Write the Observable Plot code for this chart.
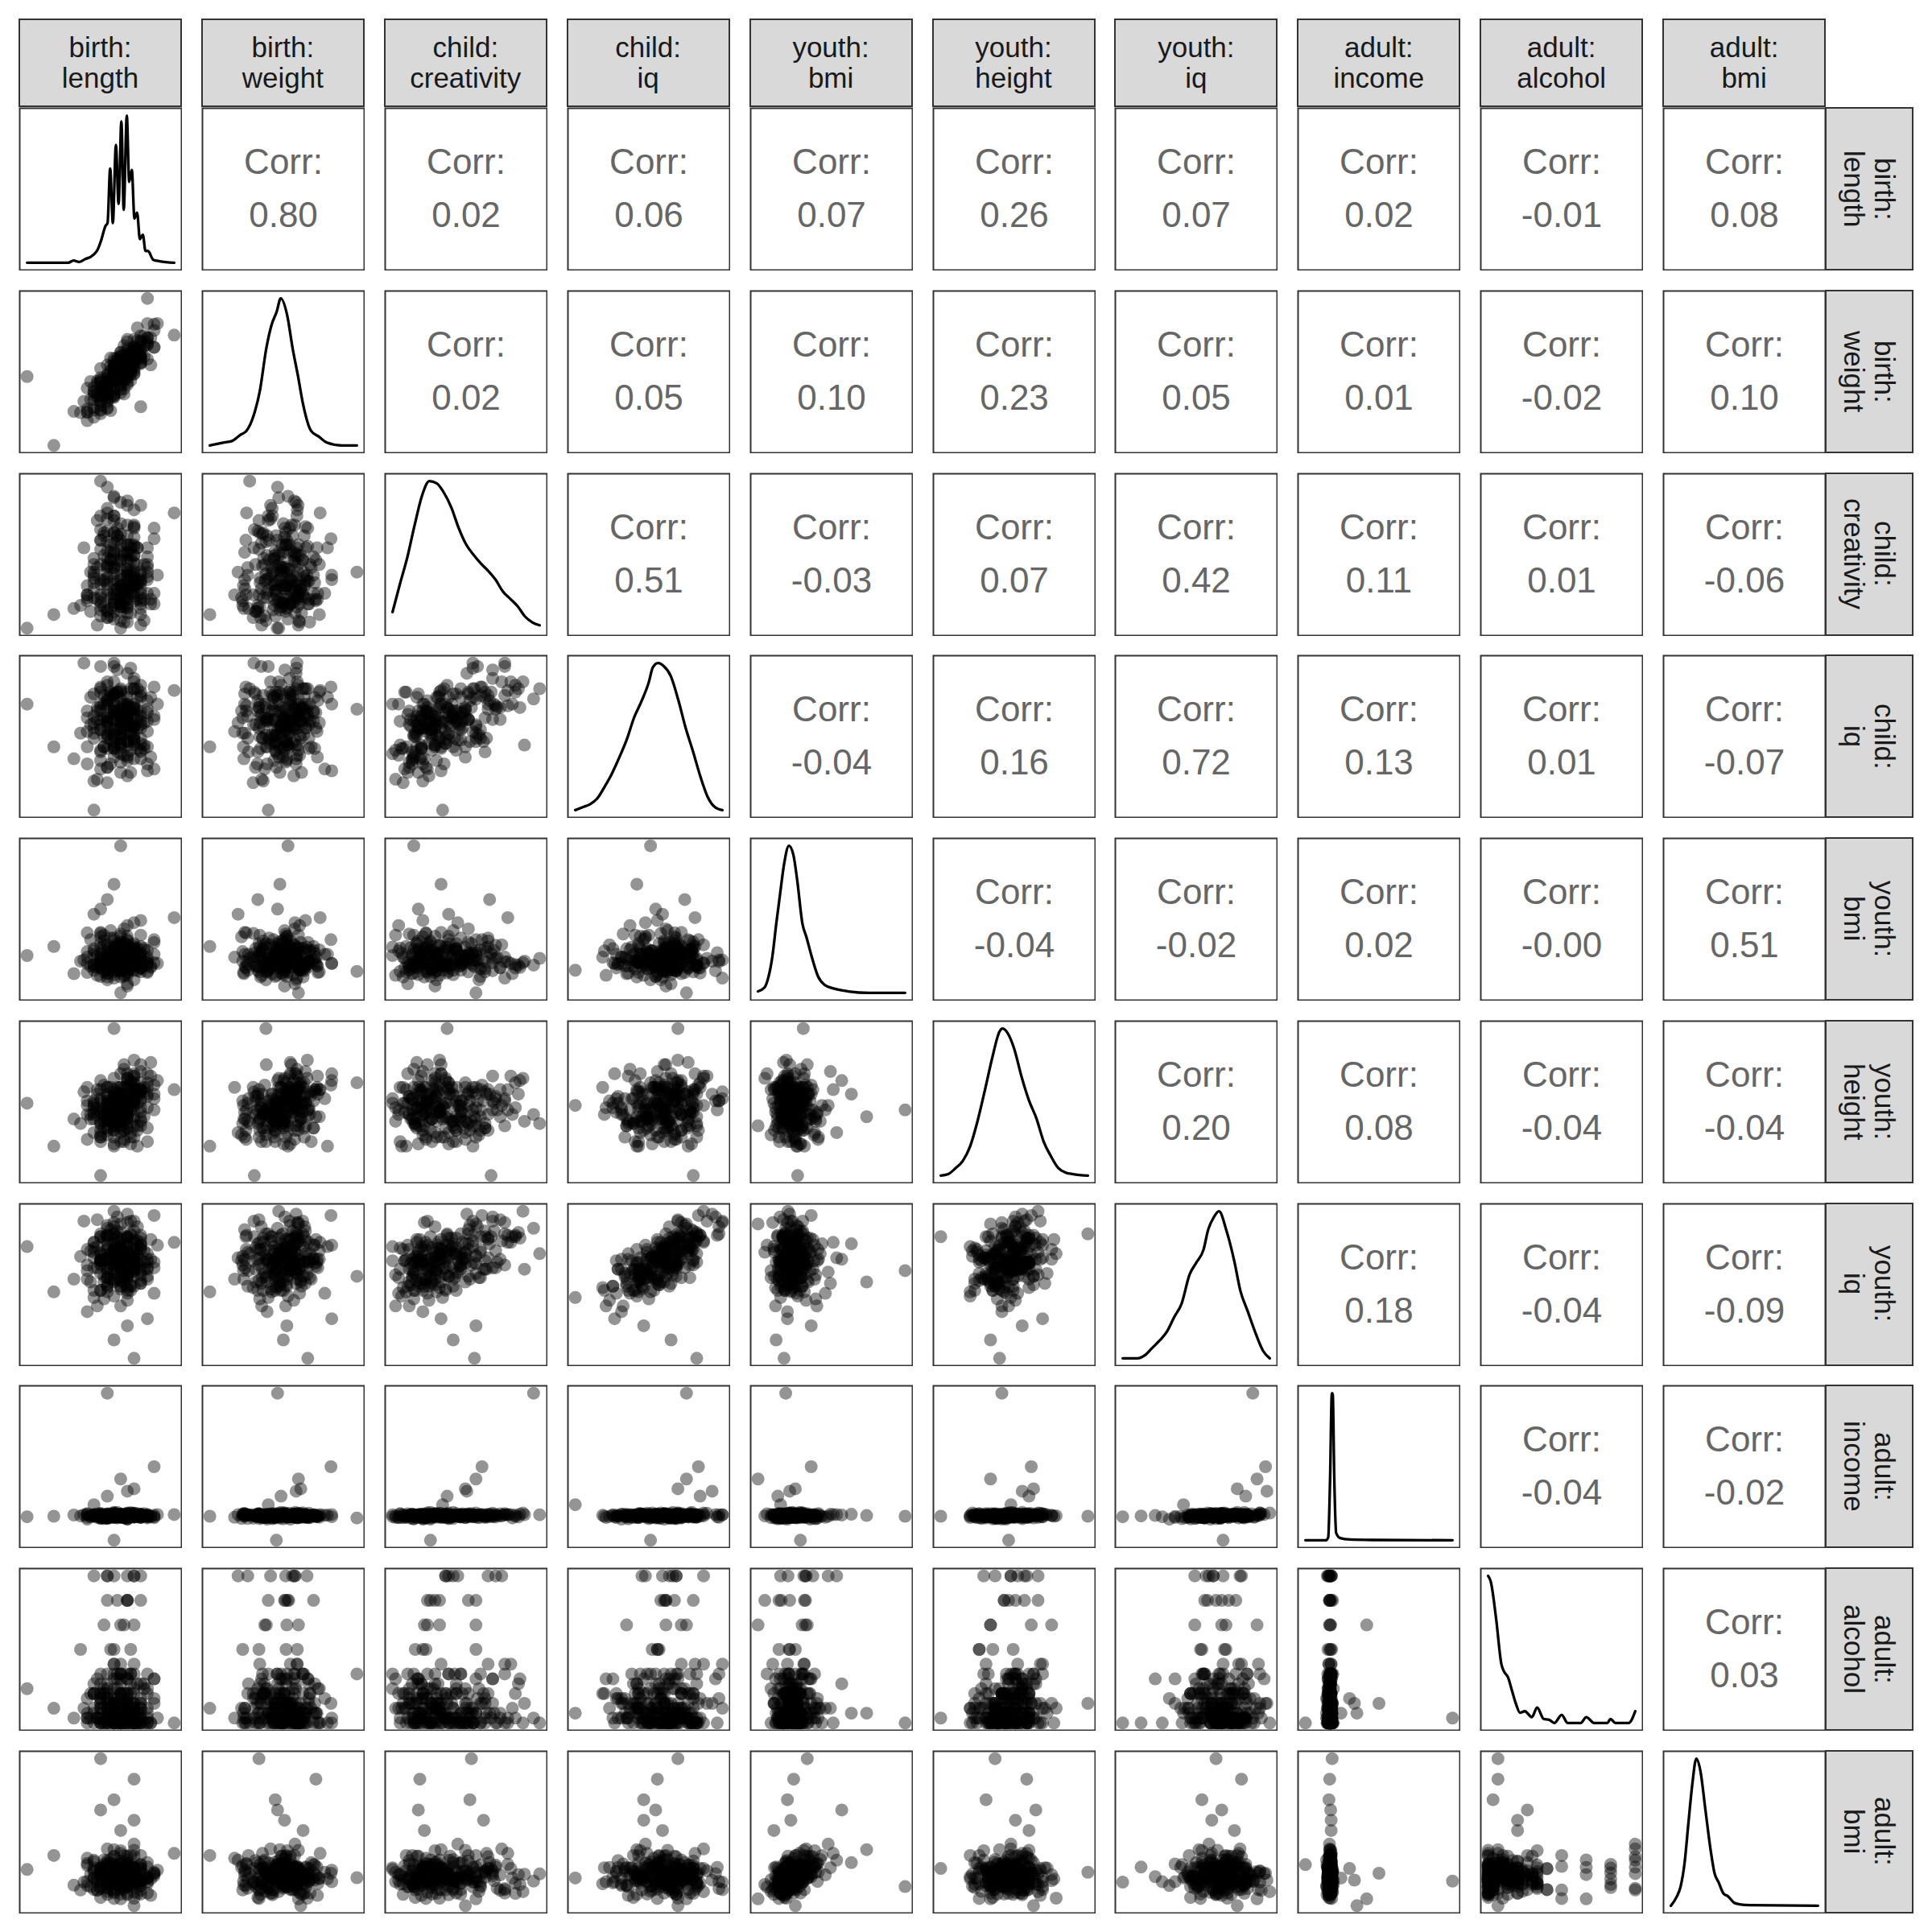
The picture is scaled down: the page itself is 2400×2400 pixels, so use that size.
<!DOCTYPE html>
<html>
<head>
<meta charset="utf-8">
<script src="https://cdn.jsdelivr.net/npm/d3@7"></script>
<script src="https://cdn.jsdelivr.net/npm/@observablehq/plot@0.6"></script>
<style>
html, body { margin: 0; padding: 0; background: #ffffff; }
#chart { position: relative; width: 2400px; height: 2400px; font-family: "Liberation Sans", Arial, Helvetica, sans-serif; }
.panel { position: absolute; width: 203px; height: 203px; }
.panel svg { display: block; }
.strip { position: absolute; box-sizing: border-box; background: #d9d9d9; border: 2px solid #333333;
  display: flex; align-items: center; justify-content: center; text-align: center;
  color: #1a1a1a; font-size: 35px; line-height: 38px; }
.strip.right { writing-mode: vertical-rl; }
</style>
</head>
<body>
<div id="chart"></div>
<script>
// ---- variables: one value per observation, same observation order in every array ----
const birthLength = [
36,40,43,44,45,45,45,46,46,46, 46,46,46,47,47,47,47,47,47,47,
47,47,47,48,48,48,48,48,48,48, 48,48,48,48,48,48,48,49,49,49,
49,49,49,49,49,49,49,49,49,49, 49,49,49,49,50,50,50,50,50,50,
50,50,50,50,50,50,50,50,50,50, 50,50,50,51,51,51,51,51,51,51,
51,51,51,51,51,51,51,51,51,51, 52,52,52,52,52,52,52,52,52,52,
52,52,52,53,53,53,53,53,53,53, 53,53,54,54,54,54,54,55,55,58,
54,49.5,47.5,51,53,46,50,52,49,55.5, 48,51.5,47,50.5,52.5,49,53.5,45.5,51.5,49.5,
50.5,48,52.5,48.5,51,54.5,49,47.5,50.5,52, 46.5,52.5,49.5,51.5,44.5,50,53,48.5,51,47.5,
51.5,54,49.5,46.5,52,48,50.5,52.5,46,51, 49,50.5,54.5,48,49.5,51.5,47,51,52.5,49,
45,51.5,50,53,48.5,50.5,49.5,53.5,47.5,52, 51,48.5,47,55,49.5,48,51.5,49,53,50.5,
45.5,52,51,48.5,50,54,47.5,50.5,49,52.5, 51.5,46.5,49.5,51,52.5,47,52,50,48.5,53.5,
45,51,48,50.5,52,49,55,46.5,51.5,49.5, 50.5,48.5,53,47.5,51.5,51,47,52,50.5,48.5];
const birthWeight = [
3180,1400,2280,2250,2250,2880,2340,2310,2700,2910, 2130,2580,2790,2670,3390,2550,2910,2430,2820,3030,
2640,3150,2220,3120,2910,3000,2700,3240,2760,3060, 3480,2850,2640,2970,3150,2520,3210,3060,3270,3450,
2670,3120,3330,3210,2850,3300,3570,3090,2730,3360, 2910,3180,3420,2640,3420,3210,3330,3810,3060,3240,
3480,2970,3390,3570,3180,3690,2760,3300,3630,2850, 3360,3240,3720,3180,3690,3570,3330,3120,4080,3450,
3240,3630,3390,3840,3510,2970,3720,3600,3300,3480, 4140,3390,3720,3540,3960,3840,3240,3600,3750,3930,
3330,3870,3660,3690,4230,2400,3960,3630,3870,4080, 3750,4110,3630,5200,3990,4080,4170,4530,3930,4250,
4020,3610,2690,3580,3540,2780,3800,3630,2690,4550, 2710,3640,3090,2860,3880,3020,3960,3050,3310,3140,
3590,2580,3850,3330,3350,3480,3290,2850,3750,3460, 2740,3680,3670,3240,2540,3400,3680,2630,4140,2820,
3310,4190,3110,3070,3690,2380,3650,3880,2380,3480, 3650,3090,4180,2810,3540,3770,2300,3410,3850,3420,
2040,3800,3300,3680,3460,2730,3340,3700,2880,3920, 3380,3660,2330,4370,3180,3010,3370,3480,3540,3590,
2590,3260,3740,3060,3140,4550,2780,3090,3250,4110, 3080,2670,3440,3380,4440,2530,3830,2940,3100,4230,
2270,3910,2350,3590,3630,3190,3940,3000,3370,3340, 3980,2930,3510,2880,3800,3020,3060,3590,3560,2300];
const childCreativity = [
3,12,16,18,21,23,25,29,33,36, 40,45,49,55,61,68,77,100,11,15,
18,20,23,25,28,32,36,39,44,49, 54,60,67,75,96,10,15,18,20,22,
25,28,32,35,39,43,48,54,59,66, 74,89,9,14,17,20,22,24,27,31,
35,38,42,47,53,58,65,72,86,8, 14,17,19,22,24,27,31,34,38,42,
47,52,58,64,71,84,7,13,17,19, 21,24,26,30,34,37,41,46,51,57,
63,70,81,5,12,16,19,21,23,26, 29,33,37,40,45,50,56,62,69,79,
43,28,17,87,34,23,48,31,66,38, 10,56,45,26,35,77,22,40,29,61,
51,14,32,43,58,19,53,35,28,69, 5,45,25,38,56,31,84,16,48,34,
40,26,64,22,51,43,17,56,38,28, 77,32,22,45,64,13,35,53,31,90,
25,48,19,40,58,29,69,8,51,34, 40,23,61,26,45,82,31,20,38,53,
14,58,32,48,3,35,66,28,43,22, 51,74,34,16,56,25,40,61,11,45,
31,38,79,23,32,51,19,43,58,29, 7,48,35,64,26,40,32,71,20,53];
const childIq = [
112,87,80,95,104,77,108,95,105,50, 101,118,98,110,97,119,134,121,74,103,
84,97,108,75,102,94,101,123,92,102, 114,94,114,125,115,66,99,93,108,87,
98,94,116,86,110,106,97,90,134,109, 103,125,86,108,94,72,105,101,89,98,
120,89,104,98,119,115,92,110,121,102, 78,102,94,88,112,70,103,90,102,112,
100,130,90,116,111,119,82,106,81,102, 98,80,107,99,92,121,99,91,110,121,
90,112,125,85,119,84,100,80,98,108, 92,116,77,109,102,107,96,122,103,120,
87,107,93,110,117,67,109,88,112,112, 86,133,85,103,98,117,86,116,85,117,
109,75,109,104,100,116,103,87,102,127, 68,103,106,96,136,88,123,77,107,112,
95,114,84,103,104,105,82,121,92,102, 136,94,81,104,119,72,112,103,105,88,
96,121,87,105,95,106,132,88,87,110, 91,98,122,74,108,112,99,118,89,103,
100,92,102,116,83,73,117,97,118,86, 108,110,119,79,116,100,94,92,119,101,
87,107,111,112,100,81,105,108,99,97, 112,91,102,104,110,109,79,109,98,118];
const youthBmi = [
20.6,22.2,17.4,19.6,21.3,19.2,24.6,18.6,20.8,18.0, 27.9,21.8,19.0,22.7,16.9,21.0,19.5,20.1,18.4,22.0,
18.7,28.8,23.9,19.2,18.1,19.8,21.3,17.5,21.8,19.3, 20.8,16.3,30.5,22.5,18.9,20.3,18.3,21.0,23.2,19.5,
17.7,21.5,18.6,33.2,22.0,17.2,20.6,19.2,19.8,23.7, 18.4,19.3,21.0,18.0,40.0,21.8,19.0,16.8,20.8,19.6,
22.2,18.7,20.1,19.3,23.0,14.0,21.3,20.3,18.9,17.8, 24.4,19.5,18.4,20.8,19.2,22.5,15.2,17.1,21.5,20.6,
18.7,19.6,23.4,18.3,20.1,19.0,25.9,15.6,17.5,19.3, 20.3,21.8,18.0,21.3,19.6,18.9,22.7,26.4,20.6,18.6,
19.8,21.5,19.2,24.2,17.7,20.8,19.5,20.1,26.8,22.2, 18.3,21.0,20.3,17.8,21.5,19.8,18.9,23.4,19.3,27.3,
19.3,20.1,24.2,18.5,19.5,21.4,18.0,20.6,22.1,19.2, 16.8,21.1,19.8,22.7,18.8,20.3,19.5,23.4,18.2,21.6,
20.6,19.0,17.9,25.0,19.6,18.5,21.1,19.3,22.9,20.1, 17.1,21.9,20.8,18.8,19.8,24.0,18.4,20.3,19.2,22.4,
21.4,17.6,19.5,20.6,22.1,18.0,21.6,19.8,19.0,23.2, 16.6,20.8,18.7,20.1,21.9,19.3,24.7,17.7,21.1,19.6,
20.3,18.8,22.7,18.4,21.4,20.6,17.9,21.9,20.1,19.0, 24.0,19.5,18.4,20.8,22.7,17.4,19.8,21.6,19.3,25.3,
18.7,21.1,18.0,20.3,22.1,19.2,23.2,16.9,21.4,19.6, 20.3,18.5,22.4,18.8,20.8,24.5,19.3,18.2,20.1,21.6,
17.6,22.1,19.5,21.1,16.3,19.8,22.9,19.0,20.6,18.4, 21.4,23.7,19.6,17.7,21.9,18.7,20.3,22.4,17.2,20.8];
const youthHeight = [
172,153,165,163,173,167,156,165,170,171, 159,173,168,164,178,140,173,163,168,174,
163,182,158,172,168,168,165,179,161,173, 173,158,176,171,167,179,165,162,173,177,
157,170,175,166,205,162,173,160,173,178, 166,183,153,175,169,170,164,179,164,173,
185,166,164,171,176,162,176,169,176,155, 167,179,166,172,167,173,183,168,161,179,
165,176,176,161,175,170,169,185,163,170, 178,162,173,178,169,157,176,171,181,166,
173,172,184,164,178,174,170,162,186,173, 165,177,170,181,175,161,179,180,169,178,
155,176,165,182,168,167,168,185,160,182, 172,169,155,189,172,162,177,165,182,169,
156,175,176,164,170,190,163,169,165,184, 170,160,169,172,177,159,181,169,166,180,
154,176,163,169,179,164,187,162,172,169, 174,164,184,160,177,172,157,177,175,164,
179,171,161,178,179,155,173,179,164,191, 166,172,160,174,179,167,181,154,177,171,
167,165,180,164,174,185,167,160,171,178, 159,178,168,174,153,168,181,166,172,166,
171,183,169,160,178,164,176,176,157,174, 167,169,189,161,172,176,157,174,179,168];
const youthIq = [
111,79,88,104,98,65,109,96,114,75, 103,110,114,98,107,118,120,106,101,99,
80,102,101,95,102,79,109,119,89,102, 126,89,113,115,124,82,84,92,107,100,
87,103,110,86,120,45,103,88,125,116, 102,136,76,109,94,83,96,111,83,104,
116,81,111,100,109,127,95,100,121,110, 69,100,102,88,128,73,107,82,103,117,
97,134,55,118,108,118,78,112,80,104, 116,83,94,100,102,100,109,93,113,32,
95,122,114,91,102,94,114,85,85,112, 87,112,95,90,106,102,100,133,96,114,
88,118,74,117,110,80,98,103,103,112, 109,119,80,102,106,98,100,108,95,89,
107,95,100,106,92,116,120,90,86,129, 69,105,114,80,129,88,119,102,97,105,
104,96,95,111,99,83,92,115,107,94, 128,94,102,92,122,83,102,90,125,95,
88,120,87,117,99,85,132,95,86,106, 112,88,118,78,117,118,84,108,96,113,
86,104,101,106,101,60,117,90,113,99, 103,130,98,90,111,101,90,109,101,108,
94,91,119,108,94,106,100,96,105,110, 89,95,109,101,129,98,92,96,100,123];
const adultIncome = [
96,98,103,99,106,86,104,99,103,145, 105,99,104,109,100,98,104,104,93,104,
96,103,89,99,106,94,103,180,101,108, 103,92,106,99,600,102,90,101,100,101,
107,0,101,101,98,99,105,96,94,105, 100,111,93,102,98,104,94,105,99,98,
96,107,101,96,104,250,105,101,95,106, 97,97,100,106,100,97,99,102,103,96,
99,200,101,97,105,103,94,108,87,103, 99,98,103,99,110,94,104,98,210,96,
105,99,105,100,94,103,103,95,106,101, 94,104,105,91,101,104,98,300,96,105,
96,114,88,106,101,98,96,107,95,105, 103,96,102,101,98,109,99,96,102,105,
92,99,104,99,111,98,106,92,99,110, 93,109,91,101,104,99,98,106,96,103,
111,98,93,102,104,89,104,101,104,86, 104,106,97,101,98,101,109,98,96,104,
94,104,104,93,102,96,105,109,93,100, 105,92,105,102,100,91,101,101,106,98,
99,99,109,95,104,96,100,91,114,99, 96,108,98,106,102,90,103,104,97,101,
109,93,104,99,105,105,92,98,103,107, 92,103,101,97,112,88,101,95,101,108];
const adultAlcohol = [
7,3,1,15,0,5,1,3,8,2, 30,0,6,2,4,1,10,0,6,4,
0,8,3,1,25,2,0,5,10,0, 3,7,2,30,1,6,0,4,9,1,
15,0,6,2,4,0,10,1,5,30, 2,0,3,7,0,9,2,6,0,3,
12,1,4,0,6,20,2,0,8,1, 4,10,0,5,2,3,25,0,2,6,
0,4,9,1,0,6,3,10,1,4, 2,20,0,7,4,1,0,30,2,0,
6,2,12,3,0,8,5,1,3,25, 0,4,1,10,6,0,2,4,9,0,
3,7,0,9,2,6,0,3,12,1, 4,0,6,20,2,0,8,1,4,10,
0,5,2,3,25,0,2,6,0,4, 9,1,0,6,3,10,1,4,2,20,
0,7,4,1,0,30,2,0,6,2, 12,3,0,8,5,1,3,25,0,4,
1,10,6,0,2,4,9,0,7,3, 1,15,0,5,1,3,8,2,30,0,
6,2,4,1,10,0,6,4,0,8, 3,1,25,2,0,5,10,0,3,7,
2,30,1,6,0,4,9,1,15,0, 6,2,4,0,10,1,5,30,2,0];
const adultBmi = [
25.6,29.7,21.0,19.6,26.8,20.9,27.4,25.4,19.7,23.1, 28.3,24.9,27.9,58.0,20.4,25.9,20.0,24.3,25.0,23.8,
17.4,43.0,26.2,26.2,20.3,23.7,23.7,25.9,22.0,25.0, 24.9,19.2,27.6,31.6,22.2,21.4,23.6,23.2,29.5,23.2,
17.1,27.0,23.5,31.4,24.8,26.3,21.4,46.0,22.1,29.3, 24.0,19.1,23.5,22.8,20.6,21.7,24.7,37.0,22.6,27.2,
19.7,23.6,21.5,23.1,28.1,17.0,30.3,20.1,24.1,21.3, 27.2,21.3,25.6,21.6,24.6,26.2,21.2,23.7,24.7,22.4,
27.4,22.5,23.5,23.3,26.9,18.6,24.0,20.5,20.6,29.5, 52.0,26.2,18.9,24.9,25.9,21.4,29.5,33.0,15.0,21.9,
40.0,22.3,25.9,24.8,22.9,29.7,22.1,20.8,26.1,27.1, 18.4,26.9,23.0,23.2,18.7,23.1,26.3,24.5,23.7,30.3,
27.6,21.2,27.0,21.2,25.9,26.1,18.4,23.2,25.8,25.4, 18.3,26.2,23.1,24.1,26.3,18.7,24.1,24.1,22.2,26.9,
23.0,28.2,18.6,28.5,22.8,22.8,22.7,26.1,23.3,25.2, 22.0,21.8,26.3,22.7,21.9,31.1,21.6,21.3,23.9,28.4,
20.7,21.5,25.0,23.0,31.2,20.1,26.0,20.5,23.1,28.4, 19.7,27.8,18.0,25.2,24.5,23.4,24.9,24.6,22.7,24.2,
28.9,21.7,22.9,22.4,26.4,20.3,24.4,24.2,24.9,17.2, 26.3,26.5,20.9,24.8,23.1,23.1,27.6,24.3,19.6,29.7,
20.6,24.7,24.8,19.7,26.1,22.0,26.0,26.1,22.4,22.5, 25.3,19.5,26.0,25.1,22.9,22.1,24.3,21.9,26.7,23.1,
22.1,24.4,27.1,21.7,22.6,24.0,24.3,19.6,29.7,21.9, 22.4,27.5,22.3,25.2,25.0,18.2,25.9,26.3,19.8,23.9];

// ---- strip labels ----
const stripLabels = ["birth:\nlength","birth:\nweight","child:\ncreativity","child:\niq","youth:\nbmi",
  "youth:\nheight","youth:\niq","adult:\nincome","adult:\nalcohol","adult:\nbmi"];

// ---- correlation labels (upper triangle, row by row) ----
const corrValues = [
"0.80","0.02","0.06","0.07","0.26","0.07","0.02","-0.01","0.08",
"0.02","0.05","0.10","0.23","0.05","0.01","-0.02","0.10",
"0.51","-0.03","0.07","0.42","0.11","0.01","-0.06",
"-0.04","0.16","0.72","0.13","0.01","-0.07",
"-0.04","-0.02","0.02","-0.00","0.51",
"0.20","0.08","-0.04","-0.04",
"0.18","-0.04","-0.09",
"-0.04","-0.02",
"0.03"];

// ---- diagonal densities: [position along the variable's range (0..1), height relative to peak] ----
const densBirthLength = [[0,0],[0.28,0],[0.316,0.015],[0.352,0.005],[0.396,0.025],[0.432,0.04],[0.458,0.06],[0.48,0.09],[0.503,0.15],[0.533,0.25],[0.547,0.27],[0.565,0.64],[0.583,0.27],[0.604,0.8],[0.622,0.4],[0.641,0.96],[0.657,0.36],[0.678,1],[0.694,0.55],[0.712,0.63],[0.73,0.3],[0.748,0.34],[0.767,0.16],[0.787,0.19],[0.805,0.08],[0.822,0.08],[0.858,0.02],[0.902,0.01],[1,0]];
const densBirthWeight = [[0,0],[0.098,0.02],[0.15,0.03],[0.205,0.07],[0.25,0.1],[0.3,0.21],[0.34,0.37],[0.384,0.66],[0.42,0.82],[0.455,0.91],[0.482,1],[0.527,0.88],[0.563,0.66],[0.598,0.48],[0.634,0.28],[0.688,0.1],[0.741,0.06],[0.795,0.02],[0.9,0],[1,0]];
const densChildCreativity = [[0,0.11],[0.05,0.3],[0.1,0.48],[0.15,0.7],[0.2,0.9],[0.25,1],[0.3,0.985],[0.35,0.92],[0.4,0.82],[0.45,0.68],[0.5,0.57],[0.55,0.5],[0.6,0.44],[0.65,0.39],[0.7,0.33],[0.75,0.25],[0.8,0.2],[0.85,0.15],[0.9,0.08],[0.95,0.04],[1,0.02]];
const densChildIq = [[0,0],[0.05,0.02],[0.1,0.04],[0.15,0.08],[0.2,0.16],[0.25,0.25],[0.3,0.36],[0.35,0.48],[0.4,0.63],[0.45,0.74],[0.5,0.87],[0.527,0.97],[0.5625,1],[0.6,0.98],[0.65,0.91],[0.7,0.75],[0.75,0.56],[0.8,0.4],[0.85,0.23],[0.9,0.09],[0.95,0.02],[1,0]];
const densYouthBmi = [[0,0.01],[0.044,0.036],[0.071,0.108],[0.098,0.25],[0.124,0.47],[0.151,0.68],[0.178,0.88],[0.21,1],[0.24,0.94],[0.266,0.77],[0.302,0.47],[0.329,0.38],[0.364,0.25],[0.409,0.11],[0.453,0.054],[0.524,0.027],[0.613,0.01],[0.755,0],[1,0]];
const densYouthHeight = [[0,0],[0.05,0.01],[0.1,0.05],[0.15,0.1],[0.2,0.2],[0.25,0.37],[0.3,0.58],[0.35,0.8],[0.4,0.98],[0.42,1],[0.47,0.94],[0.5,0.86],[0.55,0.67],[0.6,0.51],[0.65,0.39],[0.7,0.23],[0.75,0.13],[0.8,0.05],[0.85,0.02],[0.9,0.01],[1,0]];
const densYouthIq = [[0,0],[0.1,0],[0.15,0.02],[0.2,0.07],[0.25,0.12],[0.3,0.18],[0.35,0.28],[0.4,0.37],[0.455,0.57],[0.5,0.65],[0.55,0.74],[0.58,0.87],[0.62,0.96],[0.655,1],[0.705,0.87],[0.759,0.66],[0.8,0.46],[0.85,0.32],[0.9,0.18],[0.955,0.05],[1,0]];
const densAdultIncome = [[0,0],[0.14,0],[0.155,0.02],[0.168,0.43],[0.179,0.99],[0.182,1],[0.186,0.99],[0.196,0.43],[0.209,0.05],[0.236,0.015],[0.3,0.005],[0.45,0.002],[1,0]];
const densAdultAlcohol = [[0,1],[0.018,0.96],[0.054,0.71],[0.09,0.4],[0.108,0.35],[0.135,0.31],[0.162,0.22],[0.189,0.13],[0.216,0.07],[0.249,0.08],[0.297,0.04],[0.333,0.105],[0.378,0.027],[0.414,0.022],[0.45,0],[0.5,0.055],[0.54,0],[0.63,0],[0.667,0.04],[0.72,0],[0.81,0],[0.832,0.027],[0.865,0],[0.955,0],[1,0.08]];
const densAdultBmi = [[0,0],[0.039,0.06],[0.066,0.13],[0.093,0.29],[0.119,0.56],[0.146,0.83],[0.173,1],[0.2,0.92],[0.235,0.65],[0.27,0.38],[0.297,0.22],[0.324,0.16],[0.36,0.08],[0.386,0.066],[0.43,0.02],[0.466,0.01],[0.537,0.004],[1,0]];

// ---- assemble ----
const columns = [birthLength, birthWeight, childCreativity, childIq, youthBmi, youthHeight, youthIq, adultIncome, adultAlcohol, adultBmi];
const densities = [densBirthLength, densBirthWeight, densChildCreativity, densChildIq, densYouthBmi, densYouthHeight, densYouthIq, densAdultIncome, densAdultAlcohol, densAdultBmi];
const nVar = columns.length;
const nObs = d3.min(columns, col => col.length);
const idx = d3.range(nObs);
const domains = columns.map(col => {
  const [a, b] = d3.extent(col);
  const p = (b - a) * 0.05;
  return [a - p, b + p];
});
const corrMap = {};
{ let k = 0; for (let r = 0; r < nVar; r++) for (let c = r + 1; c < nVar; c++) corrMap[r + "-" + c] = corrValues[k++]; }

const FONT = "Liberation Sans, Arial, Helvetica, sans-serif";
const SIZE = 203, X0 = 23, Y0 = 133.3, PX = 226.9, PY = 226.7;
const chart = document.getElementById("chart");

for (let r = 0; r < nVar; r++) {
  for (let c = 0; c < nVar; c++) {
    let marks, xDom, yDom;
    if (r === c) {
      xDom = [-0.05, 1.05]; yDom = [-0.05, 1.05];
      marks = [Plot.line(densities[r], {x: d => d[0], y: d => d[1], curve: "monotone-x", stroke: "black", strokeWidth: 3.3})];
    } else if (r > c) {
      xDom = domains[c]; yDom = domains[r];
      marks = [Plot.dot(idx, {x: i => columns[c][i], y: i => columns[r][i], r: 8, fill: "black", fillOpacity: 0.42, stroke: "none", clip: true})];
    } else {
      xDom = [0, 1]; yDom = [0, 1];
      marks = [Plot.text([corrMap[r + "-" + c]], {frameAnchor: "middle", text: d => "Corr:\n" + d, fontSize: 44, lineHeight: 1.5, dy: -7, fill: "#666666", fontFamily: FONT})];
    }
    marks.push(Plot.frame({stroke: "#333333", strokeWidth: 2}));
    const svg = Plot.plot({
      width: SIZE, height: SIZE,
      marginTop: 1, marginRight: 1, marginBottom: 1, marginLeft: 1,
      x: {domain: xDom, axis: null},
      y: {domain: yDom, axis: null},
      style: {fontFamily: FONT, background: "transparent"},
      marks
    });
    const div = document.createElement("div");
    div.className = "panel";
    div.style.left = (X0 + c * PX) + "px";
    div.style.top = (Y0 + r * PY) + "px";
    div.appendChild(svg);
    chart.appendChild(div);
  }
}

// top strips
stripLabels.forEach((lab, k) => {
  const s = document.createElement("div");
  s.className = "strip";
  s.style.left = (X0 + k * PX) + "px";
  s.style.top = "23px";
  s.style.width = SIZE + "px";
  s.style.height = "110px";
  s.innerHTML = lab.split("\n").join("<br>");
  chart.appendChild(s);
});
// right strips
stripLabels.forEach((lab, k) => {
  const s = document.createElement("div");
  s.className = "strip right";
  s.style.left = (X0 + (nVar - 1) * PX + SIZE - 1) + "px";
  s.style.top = (Y0 + k * PY) + "px";
  s.style.width = "110px";
  s.style.height = SIZE + "px";
  s.innerHTML = lab.split("\n").join("<br>");
  chart.appendChild(s);
});
</script>
</body>
</html>
